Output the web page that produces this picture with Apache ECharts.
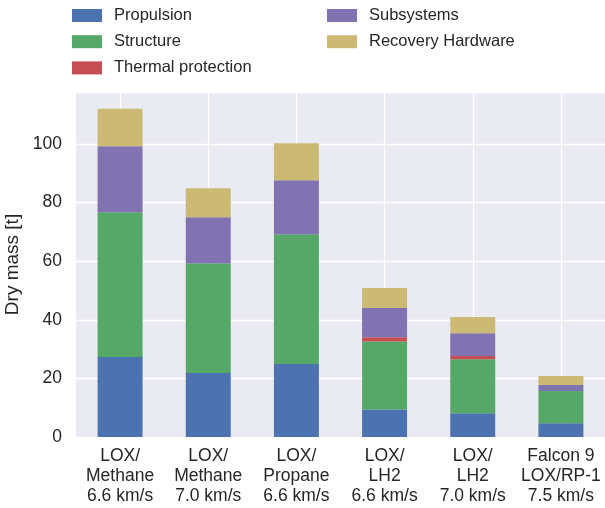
<!DOCTYPE html>
<html>
<head>
<meta charset="utf-8">
<script src="https://cdn.jsdelivr.net/npm/echarts@6/dist/echarts.min.js"></script>
<style>
  html, body { margin: 0; padding: 0; background: #fff; }
  #chart { width: 605px; height: 508px; }
</style>
</head>
<body>
<div id="chart"></div>
<script>
// vehicle configurations (x axis)
const categories = [
  'LOX/\nMethane\n6.6 km/s',
  'LOX/\nMethane\n7.0 km/s',
  'LOX/\nPropane\n6.6 km/s',
  'LOX/\nLH2\n6.6 km/s',
  'LOX/\nLH2\n7.0 km/s',
  'Falcon 9\nLOX/RP-1\n7.5 km/s',
];

// dry mass breakdown in tonnes
const propulsion = [27.3, 21.8, 24.9, 9.4, 8.1, 4.7];
const structure = [49.4, 37.5, 44.3, 23.2, 18.4, 11.0];
const thermal = [0, 0, 0, 1.4, 1.1, 0];
const subsystems = [22.5, 15.7, 18.4, 10.0, 7.8, 2.0];
const recovery = [12.8, 9.9, 12.6, 6.8, 5.5, 3.1];

const yTicks = [0, 20, 40, 60, 80, 100];

const font = 'Liberation Sans';
const textColor = '#262626';

const mk = (name, data, color) => ({
  name,
  type: 'bar',
  stack: 'mass',
  data,
  barWidth: '51%',
  itemStyle: { color },
});

const chart = echarts.init(document.getElementById('chart'));

const legendCommon = {
  orient: 'vertical',
  top: 7,
  itemWidth: 30,
  itemHeight: 13,
  itemGap: 9.2,
  icon: 'rect',
  textStyle: { fontFamily: font, fontSize: 16.5, color: textColor, padding: [0, 0, 0, 7] },
  padding: 0,
};

chart.setOption({
  animation: false,
  textStyle: { fontFamily: font },
  legend: [
    Object.assign({}, legendCommon, {
      left: 72,
      data: ['Propulsion', 'Structure', 'Thermal protection'],
    }),
    Object.assign({}, legendCommon, {
      left: 327,
      data: ['Subsystems', 'Recovery Hardware'],
    }),
  ],
  grid: {
    left: 76,
    right: 0,
    top: 92,
    bottom: 71,
    containLabel: false,
    outerBoundsMode: 'none',
    show: true,
    backgroundColor: '#EAEAF2',
    borderWidth: 0,
  },
  xAxis: {
    type: 'category',
    data: categories,
    axisLine: { show: false },
    axisTick: { show: false },
    axisLabel: {
      fontFamily: font,
      fontSize: 17.5,
      lineHeight: 20,
      color: textColor,
      margin: 9,
      interval: 0,
      hideOverlap: false,
    },
    splitLine: {
      show: true,
      alignWithLabel: true,
      lineStyle: { color: '#ffffff', width: 1.3 },
    },
  },
  yAxis: {
    type: 'value',
    min: 0,
    max: 117.7,
    interval: 20,
    name: 'Dry mass [t]',
    nameLocation: 'middle',
    nameGap: 49,
    nameTextStyle: { fontFamily: font, fontSize: 19, color: textColor },
    axisLine: { show: false },
    axisTick: { show: false },
    axisLabel: {
      fontFamily: font,
      fontSize: 17.5,
      color: textColor,
      margin: 14,
      formatter: (v) => (yTicks.indexOf(v) >= 0 ? String(v) : ''),
    },
    splitLine: { lineStyle: { color: '#ffffff', width: 1.3 } },
  },
  series: [
    mk('Propulsion', propulsion, '#4C72B0'),
    mk('Structure', structure, '#55A868'),
    mk('Thermal protection', thermal, '#C44E52'),
    mk('Subsystems', subsystems, '#8172B2'),
    mk('Recovery Hardware', recovery, '#CCB974'),
  ],
});
</script>
</body>
</html>
